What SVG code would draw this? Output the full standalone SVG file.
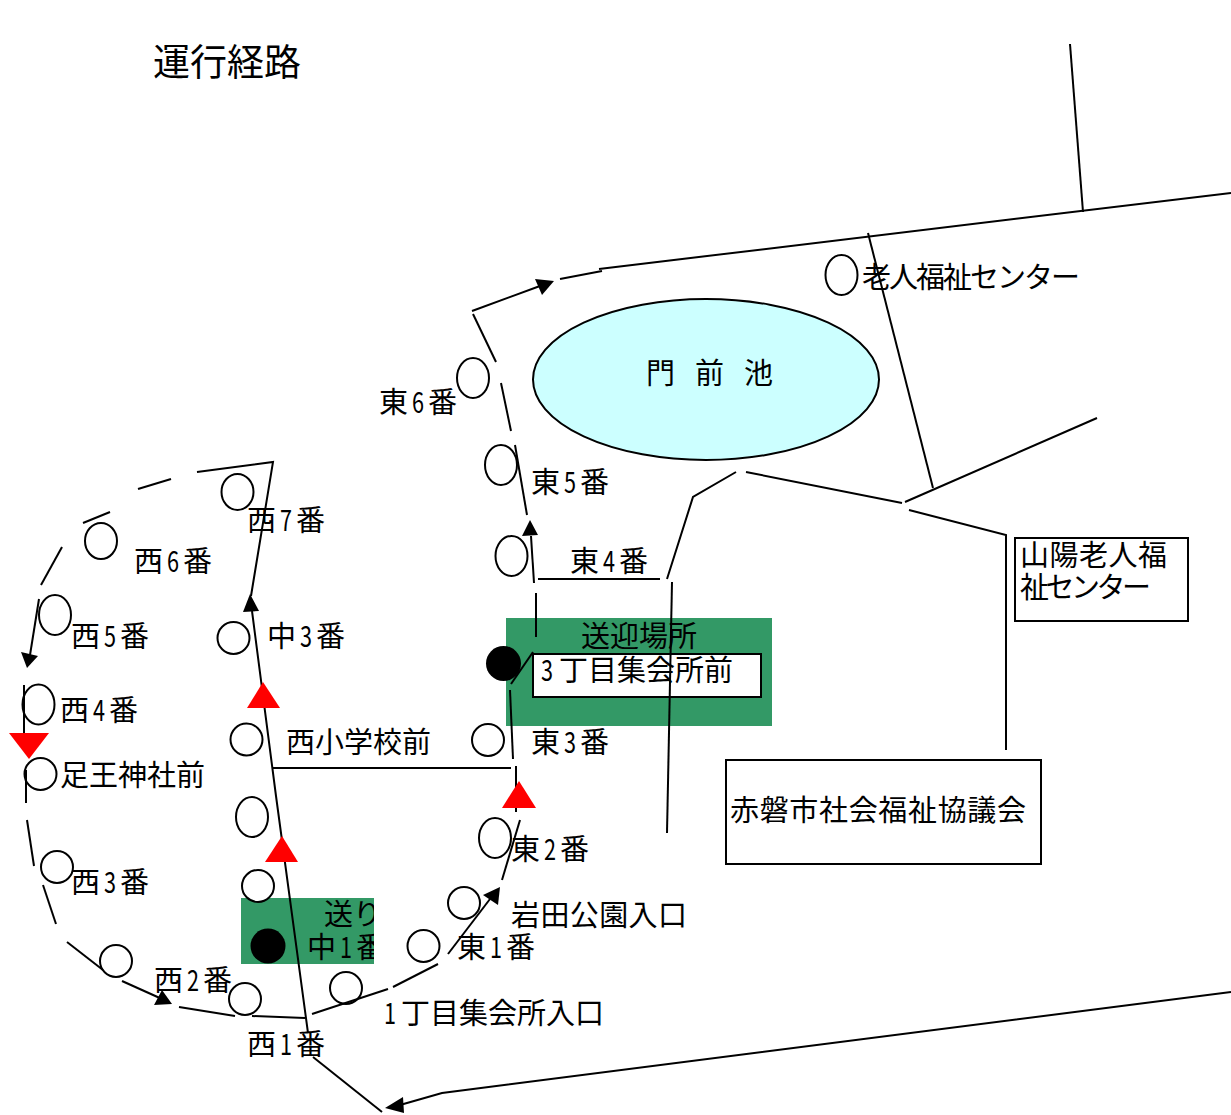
<svg xmlns="http://www.w3.org/2000/svg" width="1231" height="1115" viewBox="0 0 1231 1115">
<style>
text{font-family:"Noto Sans CJK JP","Noto Sans",sans-serif;font-size:29px;fill:#000}
.s{fill:#fff;stroke:#000;stroke-width:2}
.g{fill:#339966}
.b{fill:#000}
.r{fill:#f00}
.a{fill:#000}
#connectors path{fill:none;stroke:#000;stroke-width:2}
</style>
<defs><clipPath id="c1"><rect x="241" y="898" width="133" height="66"/></clipPath></defs>
<rect width="1231" height="1115" fill="#fff"/>
<text id="title" x="153" y="76" style="font-size:37px">運行経路</text>
<g id="pond"><ellipse cx="706" cy="379.500" rx="173" ry="80.500" fill="#ccffff" stroke="#000" stroke-width="2"/><text x="646" y="384" style="letter-spacing:20px">門前池</text></g>
<g id="stop-send"><rect class="g" x="241" y="898" width="133" height="66"/><circle class="b" cx="268" cy="946" r="17.500"/></g>
<g id="stop-pickup"><rect class="g" x="506" y="618" width="266" height="108"/><circle class="b" cx="503.500" cy="663.500" r="17.500"/><rect x="533" y="654" width="228" height="43" fill="#fff" stroke="#000" stroke-width="2"/></g>
<g id="n-rojin"><ellipse class="s" cx="841.500" cy="275" rx="16" ry="20"/></g>
<g id="n-e6"><ellipse class="s" cx="473" cy="378" rx="16" ry="20"/></g>
<g id="n-e5"><ellipse class="s" cx="501" cy="465" rx="16" ry="20"/></g>
<g id="n-e4"><ellipse class="s" cx="511.500" cy="556" rx="16" ry="20"/></g>
<g id="n-e3"><ellipse class="s" cx="488" cy="740" rx="16" ry="16"/></g>
<g id="n-e2"><ellipse class="s" cx="495" cy="838" rx="16" ry="20"/></g>
<g id="n-iwata"><ellipse class="s" cx="464" cy="903" rx="16" ry="16"/></g>
<g id="n-e1"><ellipse class="s" cx="423.500" cy="946" rx="16" ry="16"/></g>
<g id="n-1chome"><ellipse class="s" cx="346" cy="988" rx="16" ry="16"/></g>
<g id="n-w1"><ellipse class="s" cx="245" cy="999" rx="16" ry="16"/></g>
<g id="n-w2"><ellipse class="s" cx="116" cy="961" rx="16" ry="16"/></g>
<g id="n-w3"><ellipse class="s" cx="57" cy="867" rx="16" ry="16"/></g>
<g id="n-ashio"><ellipse class="s" cx="40.500" cy="774" rx="16" ry="16"/></g>
<g id="n-w4"><ellipse class="s" cx="38.500" cy="704.500" rx="16" ry="20"/></g>
<g id="n-w5"><ellipse class="s" cx="55" cy="615" rx="16" ry="20"/></g>
<g id="n-w6"><ellipse class="s" cx="101" cy="541" rx="16" ry="18"/></g>
<g id="n-w7"><ellipse class="s" cx="237.500" cy="492" rx="16" ry="18"/></g>
<g id="n-c3"><ellipse class="s" cx="233.500" cy="638" rx="16" ry="16"/></g>
<g id="n-nishisho"><ellipse class="s" cx="246.500" cy="739.500" rx="16" ry="16"/></g>
<g id="n-c2"><ellipse class="s" cx="252" cy="817" rx="16" ry="20"/></g>
<g id="n-c1"><ellipse class="s" cx="258" cy="886" rx="16" ry="16"/></g>
<g id="connectors">
<path d="M197 472L273 462L251 596"/>
<path d="M252 611L276 796L308 1033"/>
<path d="M313 1057L382 1112"/>
<path d="M273 768H511"/>
<path d="M510 690L513 759"/>
<path d="M516 766V812"/>
<path d="M520 820L502 880"/>
<path d="M448 954L490 899"/>
<path d="M438 964L393 987"/>
<path d="M388 989L312 1014"/>
<path d="M305 1018L252 1016"/>
<path d="M235 1016L179 1007"/>
<path d="M122 981L162 999"/>
<path d="M103 970L67 942"/>
<path d="M56 924L43 885"/>
<path d="M34 866L27 820"/>
<path d="M26 803V770"/>
<path d="M24 685V733"/>
<path d="M39 599L30 655"/>
<path d="M41 585L62 547"/>
<path d="M83 523L110 512"/>
<path d="M138 489L171 479"/>
<path d="M536 637V593"/>
<path d="M534 583L531 536"/>
<path d="M527 515L515 445"/>
<path d="M511 431L501 383"/>
<path d="M496 362L473 314"/>
<path d="M472 311L540 286"/>
<path d="M560 279L602 271"/>
<path d="M599 269L1231 193"/>
<path d="M538 579H660"/>
<path d="M667 579L693 497L736 472"/>
<path d="M746 472L902 503"/>
<path d="M905 502L1097 418"/>
<path d="M909 510L1006 535V750"/>
<path d="M933 488L868 233"/>
<path d="M1070 44L1083 212"/>
<path d="M672 582L667 833"/>
<path d="M533 652L511 684"/>
<path d="M1231 992L442 1093L400 1105"/>
<polygon class="a" points="250,594 243,612 259,611"/>
<polygon class="a" points="27,668 21,652 38,656"/>
<polygon class="a" points="172,1004 154,1005 162,990"/>
<polygon class="a" points="500,887 483,895 498,905"/>
<polygon class="a" points="530,520 522,536 538,535"/>
<polygon class="a" points="554,281 535,279 542,295"/>
<polygon class="a" points="385,1108 403,1097 404,1113"/>
</g>
<g id="markers">
<polygon class="r" points="263,682 247,708 280,708"/>
<polygon class="r" points="282,836 265,862 298,862"/>
<polygon class="r" points="519,781 502,808 536,808"/>
<polygon class="r" points="9,733 49,733 29,759"/>
</g>
<g id="labels">
<text x="247" y="531">西<tspan x="280" textLength="12" lengthAdjust="spacingAndGlyphs">7</tspan><tspan x="296">番</tspan></text>
<text x="134" y="572">西<tspan x="167" textLength="12" lengthAdjust="spacingAndGlyphs">6</tspan><tspan x="183">番</tspan></text>
<text x="71" y="647">西<tspan x="104" textLength="12" lengthAdjust="spacingAndGlyphs">5</tspan><tspan x="120">番</tspan></text>
<text x="267" y="647">中<tspan x="300" textLength="12" lengthAdjust="spacingAndGlyphs">3</tspan><tspan x="316">番</tspan></text>
<text x="60" y="721">西<tspan x="93" textLength="12" lengthAdjust="spacingAndGlyphs">4</tspan><tspan x="109">番</tspan></text>
<text x="60" y="786">足王神社前</text>
<text x="286" y="753">西小学校前</text>
<text x="531" y="753">東<tspan x="564" textLength="12" lengthAdjust="spacingAndGlyphs">3</tspan><tspan x="580">番</tspan></text>
<text x="511" y="860">東<tspan x="544" textLength="12" lengthAdjust="spacingAndGlyphs">2</tspan><tspan x="560">番</tspan></text>
<text x="511" y="926" textLength="176">岩田公園入口</text>
<text x="457" y="958">東<tspan x="490" textLength="12" lengthAdjust="spacingAndGlyphs">1</tspan><tspan x="506">番</tspan></text>
<text x="384" y="1024"><tspan textLength="12" lengthAdjust="spacingAndGlyphs">1</tspan><tspan x="401">丁目集会所入口</tspan></text>
<text x="247" y="1055">西<tspan x="280" textLength="12" lengthAdjust="spacingAndGlyphs">1</tspan><tspan x="296">番</tspan></text>
<text x="154" y="991">西<tspan x="187" textLength="12" lengthAdjust="spacingAndGlyphs">2</tspan><tspan x="203">番</tspan></text>
<text x="71" y="893">西<tspan x="104" textLength="12" lengthAdjust="spacingAndGlyphs">3</tspan><tspan x="120">番</tspan></text>
<g clip-path="url(#c1)"><text x="324" y="925">送り</text>
<text x="307" y="958">中<tspan x="340" textLength="12" lengthAdjust="spacingAndGlyphs">1</tspan><tspan x="356">番</tspan></text></g>
<text x="581" y="647">送迎場所</text>
<text x="541" y="681"><tspan textLength="12" lengthAdjust="spacingAndGlyphs">3</tspan><tspan x="559">丁目集会所前</tspan></text>
<text x="570" y="572">東<tspan x="603" textLength="12" lengthAdjust="spacingAndGlyphs">4</tspan><tspan x="619">番</tspan></text>
<text x="531" y="493">東<tspan x="564" textLength="12" lengthAdjust="spacingAndGlyphs">5</tspan><tspan x="580">番</tspan></text>
<text x="379" y="413">東<tspan x="412" textLength="12" lengthAdjust="spacingAndGlyphs">6</tspan><tspan x="428">番</tspan></text>
<text x="862" y="288" textLength="218">老人福祉センター</text>
</g>
<g id="box-sanyo"><rect x="1015" y="538" width="173" height="83" fill="none" stroke="#000" stroke-width="2"/><text x="1020" y="566" textLength="147">山陽老人福</text><text x="1020" y="598" textLength="131">祉センター</text></g>
<g id="box-council"><rect x="726" y="760" width="315" height="104" fill="none" stroke="#000" stroke-width="2"/><text x="730" y="821" textLength="296">赤磐市社会福祉協議会</text></g>
</svg>
